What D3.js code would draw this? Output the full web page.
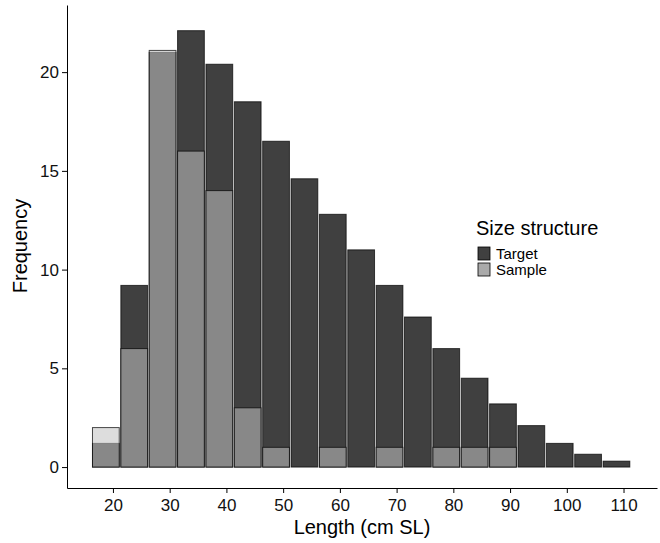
<!DOCTYPE html>
<html><head><meta charset="utf-8">
<script src="https://cdn.jsdelivr.net/npm/d3@7"></script>
<style>body{margin:0;background:#fff}text{font-family:"Helvetica","Liberation Sans",Arial,sans-serif}</style>
</head><body><svg id="c" width="660" height="543"></svg>
<script>
var mids = [18.75,23.75,28.75,33.75,38.75,43.75,48.75,53.75,58.75,63.75,68.75,73.75,78.75,83.75,88.75,93.75,98.75,103.75,108.75];
var target = [1.2,9.2,21,22.1,20.4,18.5,16.5,14.6,12.8,11,9.2,7.6,6.0,4.5,3.2,2.1,1.2,0.65,0.3];
var sample = [2,6,21.1,16,14,3,1,0,1,0,1,0,1,1,1,0,0,0,0];
var xTicks = [20,30,40,50,60,70,80,90,100,110];
var yTicks = [0,5,10,15,20];
var binW = 5;

var svg = d3.select("#c");
var x = d3.scaleLinear().domain([11.9,115.9]).range([67,657]);
var y = d3.scaleLinear().domain([-1.06,23.4]).range([488,5]);

function bars(vals, fill, op) {
	svg.append("g").selectAll("rect").data(vals).enter().append("rect")
		.attr("x", function(d,i){ return x(mids[i]-binW/2)+0.8; })
		.attr("width", function(){ return x(binW)-x(0)-1.6; })
		.attr("y", function(d){ return y(d); })
		.attr("height", function(d){ return y(0)-y(d); })
		.attr("fill", fill).attr("fill-opacity", op)
		.attr("stroke", "#000").attr("stroke-opacity", 0.7).attr("stroke-width", 1);
}
bars(target, "#404040", 1);
bars(sample, "#c2c2c2", 0.555);

svg.append("g").attr("transform","translate(0,488)")
	.call(d3.axisBottom(x).tickValues(xTicks).tickSize(5).tickSizeOuter(0))
	.call(function(g){ g.selectAll("text").attr("font-size",17).attr("fill","#111").attr("dy","0.9em"); g.select(".domain").attr("stroke","#000"); });
svg.append("g").attr("transform","translate(67,0)")
	.call(d3.axisLeft(y).tickValues(yTicks).tickSize(5).tickSizeOuter(0))
	.call(function(g){ g.selectAll("text").attr("font-size",17).attr("fill","#111"); g.select(".domain").attr("stroke","#000"); });

svg.append("text").attr("x",362).attr("y",534).attr("text-anchor","middle").attr("font-size",20).text("Length (cm SL)");
svg.append("text").attr("transform","translate(27,246) rotate(-90)").attr("text-anchor","middle").attr("font-size",20).text("Frequency");

var leg = svg.append("g").attr("transform","translate(476,235)");
leg.append("text").attr("x",0).attr("y",0).attr("font-size",20).text("Size structure");
var keys = [["Target","#404040"],["Sample","#aaaaaa"]];
keys.forEach(function(k,i){
	leg.append("rect").attr("x",2).attr("y",12+i*16).attr("width",12).attr("height",13)
		.attr("fill",k[1]).attr("stroke","#000").attr("stroke-width",0.8);
	leg.append("text").attr("x",20).attr("y",24+i*16).attr("font-size",15).text(k[0]);
});
</script></body></html>
